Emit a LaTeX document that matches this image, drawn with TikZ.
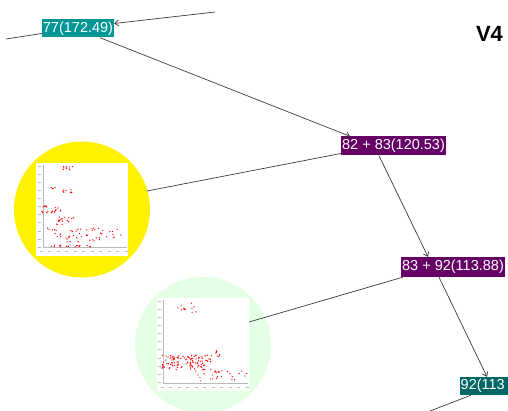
\documentclass[tikz,border=0pt]{standalone}
\usepackage{fontspec}
\setmainfont{Liberation Sans}
\usetikzlibrary{arrows.meta}
\definecolor{tealA}{RGB}{0,150,150}
\definecolor{tealB}{RGB}{0,102,102}
\definecolor{purp}{RGB}{102,0,102}
\definecolor{lgreen}{RGB}{228,255,228}
\definecolor{edge}{RGB}{60,60,60}
\definecolor{tick}{RGB}{185,185,185}
\tikzset{
  lab/.style={text=white, font=\fontsize{14.5}{16}\selectfont, inner xsep=0.5pt, inner ysep=0pt, minimum height=19pt, anchor=center},
  conn/.style={draw=edge, line width=0.7pt},
  arr/.style={conn, -{Straight Barb[length=4pt,width=6pt]}},
  dot/.style={fill=red},
  panel/.style={fill=white, draw=none},
  axisl/.style={draw=tick, line width=0.4pt}
}
\begin{document}
\begin{tikzpicture}[x=1pt,y=-1pt]
\useasboundingbox (0,0) rectangle (508,411);
% circles
\node[circle, fill=yellow, minimum size=136pt, inner sep=0pt] (ycirc) at (82,209.5) {};
\node[circle, fill=lgreen, minimum size=136pt, inner sep=0pt] (gcirc) at (203,345) {};
% free ends
\coordinate (c1) at (215,12);
\coordinate (c2) at (6,39);
\coordinate (c3) at (430,411);
\coordinate (ys) at (147,191);
\coordinate (gs) at (249,322);
% nodes
\node[lab, fill=tealA, minimum width=72pt, minimum height=18pt] (n77) at (78,28.5) {77(172.49)};
\node[lab, fill=purp, minimum width=105pt] (n8283) at (393.5,146) {82 + 83(120.53)};
\node[lab, fill=purp, minimum width=104pt, minimum height=20pt] (n8392) at (453,267) {83 + 92(113.88)};
\node[lab, fill=tealB, anchor=west, minimum height=18pt, text width=47pt, align=left] (n92) at (460,386) {92(113};
\node[font=\bfseries\fontsize{22}{24}\selectfont, inner sep=0pt] (v4) at (489.5,34) {V4};
% connectors
\draw[arr] (c1) -- ([yshift=5pt]n77.east);
\draw[conn] (c2) -- ([yshift=-5pt]n77.west);
\draw[arr] ([xshift=22pt]n77.south) -- ([xshift=-43.5pt]n8283.north);
\draw[conn] (ys) -- ([yshift=-7.5pt]n8283.west);
\draw[arr] ([xshift=-14.5pt]n8283.south) -- ([xshift=-25pt]n8392.north);
\draw[conn] (gs) -- ([xshift=2pt]n8392.south west);
\draw[arr] ([xshift=-14pt]n8392.south) -- ([xshift=27pt]n92.north west);
\draw[conn] (c3) -- ([xshift=11pt]n92.south west);
% yellow panel
\fill[panel] (36,163) rectangle (128,256);
\draw[axisl] (43,165) -- (43,247) -- (127,247);
\foreach \i in {0,...,10} {
  \draw[axisl] (37.5,{166+\i*8.1}) -- (40.5,{166+\i*8.1});
  \draw[axisl] ({39.5+\i*8.5},251) -- ({42.5+\i*8.5},251);
}
\pgfmathsetseed{7}
\foreach \xa/\xb/\ya/\yb/\n in {62/74/166/170/10, 51/56/187/189/4, 60/72/189/193/8, 42/48/206/207/6, 42/56/211/213/12, 55/62/207/211/6, 57/80/217/222/14, 55/63/224/225/3, 46/126/228/232/20, 55/126/233/238/25, 60/100/239/242/8, 49/92/245/247/18} {
  \foreach \k in {1,...,\n} {
    \pgfmathsetmacro\px{\xa+rnd*(\xb-\xa)}
    \pgfmathsetmacro\py{\ya+rnd*(\yb-\ya)}
    \fill[dot] (\px,\py) circle (0.7pt);
  }
}
% green panel
\fill[panel] (157,298) rectangle (249,391);
\draw[axisl] (163,300) -- (163,383) -- (248,383);
\foreach \i in {0,...,10} {
  \draw[axisl] (157.5,{301+\i*8.1}) -- (160.5,{301+\i*8.1});
  \draw[axisl] ({160.5+\i*8.5},387) -- ({163.5+\i*8.5},387);
}
\pgfmathsetseed{11}
\foreach \xa/\xb/\ya/\yb/\n in {177/200/301/313/12, 162/212/355/370/110, 214/220/350/358/8, 195/248/371/382/20, 215/222/370/375/8} {
  \foreach \k in {1,...,\n} {
    \pgfmathsetmacro\px{\xa+rnd*(\xb-\xa)}
    \pgfmathsetmacro\py{\ya+rnd*(\yb-\ya)}
    \fill[dot] (\px,\py) circle (0.7pt);
  }
}
\end{tikzpicture}
\end{document}
